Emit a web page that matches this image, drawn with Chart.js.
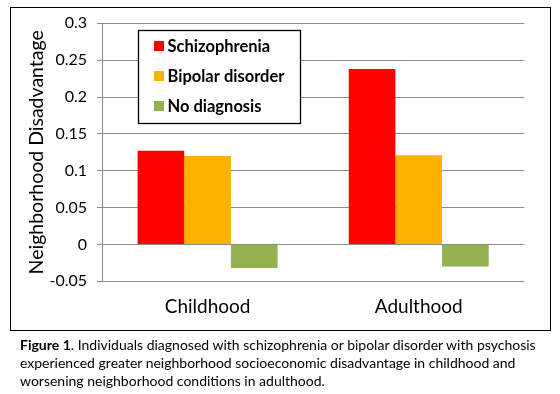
<!DOCTYPE html>
<html><head><meta charset="utf-8">
<script src="https://cdn.jsdelivr.net/npm/chart.js@4/dist/chart.umd.min.js"></script>
<style>
html,body{margin:0;padding:0;background:#fff;}
body{width:560px;height:394px;position:relative;overflow:hidden;font-family:Lato,sans-serif;}
#frame{position:absolute;left:10px;top:7px;width:539px;height:322px;border:1.3px solid #000;box-sizing:content-box;}
#wrap{position:absolute;left:0;top:0;width:560px;height:394px;}
#caption{position:absolute;left:20px;top:336px;font-size:14px;line-height:18px;color:#000;white-space:nowrap;}
</style></head>
<body>
<div id="frame"></div>
<div id="wrap"><canvas id="c" width="560" height="394"></canvas></div>
<div id="caption"><b>Figure 1</b>. Individuals diagnosed with schizophrenia or bipolar disorder with psychosis<br>experienced greater neighborhood socioeconomic disadvantage in childhood and<br>worsening neighborhood conditions in adulthood.</div>
<script>
const categories = ['Childhood', 'Adulthood'];
const seriesNames = ['Schizophrenia', 'Bipolar disorder', 'No diagnosis'];
const schizophrenia = [0.127, 0.238];
const bipolarDisorder = [0.120, 0.121];
const noDiagnosis = [-0.032, -0.030];
const yTickValues = [-0.05, 0, 0.05, 0.1, 0.15, 0.2, 0.25, 0.3];
const yTickLabels = ['-0.05', '0', '0.05', '0.1', '0.15', '0.2', '0.25', '0.3'];
const seriesColors = ['#FF0000', '#FFB300', '#95B251'];

const legendBox = {
  id: 'legendBox',
  afterDatasetsDraw(chart) {
    const ctx = chart.ctx;
    ctx.save();
    ctx.fillStyle = '#fff';
    ctx.fillRect(138.5, 30.5, 162, 93);
    ctx.strokeStyle = '#000';
    ctx.lineWidth = 1.3;
    ctx.strokeRect(138.5, 30.5, 162, 93);
    ctx.font = 'bold 16.5px Lato';
    ctx.textBaseline = 'middle';
    ctx.textAlign = 'left';
    chart.data.datasets.forEach((ds, i) => {
      const cy = 46 + 30 * i;
      ctx.fillStyle = ds.backgroundColor;
      ctx.fillRect(154, cy - 5, 10, 10);
      ctx.fillStyle = '#000';
      ctx.fillText(ds.label, 167.5, cy + 0.5);
    });
    ctx.restore();
  }
};

const datasets = [schizophrenia, bipolarDisorder, noDiagnosis].map((vals, i) => ({
  label: seriesNames[i],
  data: vals,
  backgroundColor: seriesColors[i],
  borderWidth: 0,
  categoryPercentage: 0.663,
  barPercentage: 1.0
}));

new Chart(document.getElementById('c'), {
  type: 'bar',
  data: { labels: categories, datasets: datasets },
  plugins: [legendBox],
  options: {
    responsive: false,
    animation: false,
    events: [],
    layout: { padding: { left: 22.2, right: 35.7, top: 23.3, bottom: 72.7 } },
    plugins: { legend: { display: false }, tooltip: { enabled: false } },
    scales: {
      x: {
        grid: { display: false, drawTicks: false },
        border: { display: false },
        ticks: { color: '#000', font: { family: 'Lato', size: 19 }, padding: 14, maxRotation: 0 },
        afterFit(s) { s.height = 40; }
      },
      y: {
        min: -0.05, max: 0.3,
        afterBuildTicks(s) { s.ticks = yTickValues.map(v => ({ value: v })); },
        grid: { color: '#8a8a8a', lineWidth: 1, tickLength: 5, drawTicks: true },
        border: { display: true, color: '#8a8a8a', width: 1 },
        ticks: {
          color: '#000', font: { family: 'Lato', size: 16 }, padding: 10,
          callback(v) { const k = yTickValues.indexOf(v); return k >= 0 ? yTickLabels[k] : ''; }
        },
        title: { display: true, text: 'Neighborhood Disadvantage', color: '#000', font: { family: 'Lato', size: 19.5 }, padding: { top: 3, bottom: 4 } },
        afterFit(s) { s.width = 79.8; }
      }
    }
  }
});
</script>
</body></html>
